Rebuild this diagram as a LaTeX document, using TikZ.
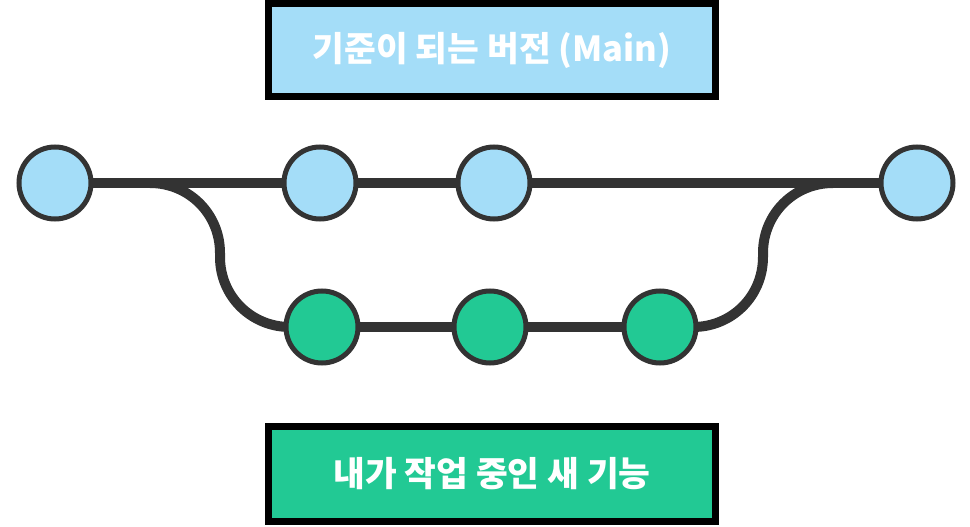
\documentclass[tikz,border=0pt]{standalone}
\usepackage{fontspec}
\newfontfamily\kr{Noto Sans CJK KR}
\usetikzlibrary{backgrounds}
\definecolor{mainblue}{HTML}{A4DDF8}
\definecolor{featgreen}{HTML}{22C994}
\definecolor{stroke}{HTML}{333333}
\tikzset{
  commitmain/.style={circle, draw=stroke, line width=5pt, fill=mainblue, minimum size=72pt, inner sep=0pt},
  commitfeat/.style={circle, draw=stroke, line width=5pt, fill=featgreen, minimum size=72pt, inner sep=0pt},
  labelbox/.style={rectangle, draw=black, line width=7pt, minimum width=447pt, inner sep=0pt,
    text=white, font=\kr\bfseries\fontsize{34.5}{38}\selectfont},
  branchline/.style={draw=stroke, line width=10pt}
}
\begin{document}
\begin{tikzpicture}[x=1pt,y=-1pt]
\useasboundingbox (0,0) rectangle (970,527);
\node[labelbox, fill=mainblue, minimum height=93pt] (mainlabel) at (492,50) {기준이 되는 버전 (Main)};
\node[labelbox, fill=featgreen, minimum height=95pt] (featlabel) at (492,474) {내가 작업 중인 새 기능};
\node[commitmain] (m1) at (55,183) {};
\node[commitmain] (m2) at (320,183) {};
\node[commitmain] (m3) at (494,183) {};
\node[commitmain] (m4) at (917,183) {};
\node[commitfeat] (f1) at (322,327) {};
\node[commitfeat] (f2) at (490,327) {};
\node[commitfeat] (f3) at (660,327) {};
\coordinate (fork) at (150,183);
\coordinate (join) at (833,183);
\begin{scope}[on background layer]
\draw[branchline] (m1.center) -- (m2.center) -- (m3.center) -- (m4.center);
\draw[branchline] (fork) .. controls (189,183) and (220,214) .. (220,253) -- (220,257)
  .. controls (220,296) and (251,327) .. (290,327) -- (f1.center);
\draw[branchline] (f1.center) -- (f2.center) -- (f3.center);
\draw[branchline] (f3.center) -- (693,327) .. controls (732,327) and (763,296) .. (763,257) -- (763,253)
  .. controls (763,214) and (794,183) .. (join);
\end{scope}
\end{tikzpicture}
\end{document}
